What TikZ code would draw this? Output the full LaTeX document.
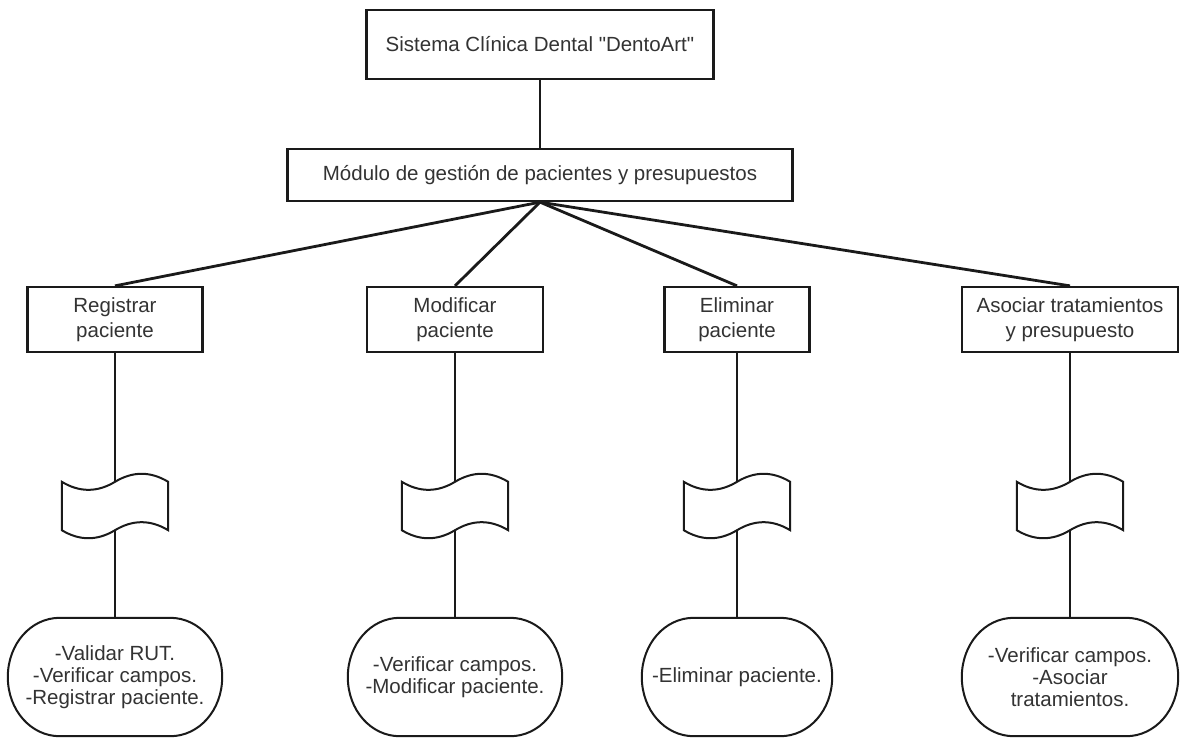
\documentclass[tikz,border=0pt]{standalone}
\usepackage{fontspec}
\setmainfont{Liberation Sans}[Ligatures=TeXOff]
\usetikzlibrary{backgrounds}
\definecolor{txtc}{HTML}{333333}
\definecolor{linec}{HTML}{1A1A1A}
\newcommand\tapeoutline[1]{%
  \draw[outline] (#1.north west)
    .. controls ([shift={(17.7pt,-10.7pt)}]#1.north west) and ([shift={(-17.7pt,-10.7pt)}]#1.north) .. (#1.north)
    .. controls ([shift={(17.7pt,10.7pt)}]#1.north) and ([shift={(-17.7pt,10.7pt)}]#1.north east) .. (#1.north east)
    -- (#1.south east)
    .. controls ([shift={(-17.7pt,10.7pt)}]#1.south east) and ([shift={(17.7pt,10.7pt)}]#1.south) .. (#1.south)
    .. controls ([shift={(-17.7pt,-10.7pt)}]#1.south) and ([shift={(17.7pt,-10.7pt)}]#1.south west) .. (#1.south west)
    -- cycle;}
\newcommand\termoutline[1]{%
  \draw[outline] ([xshift=52pt]#1.north west) -- ([xshift=-52pt]#1.north east)
    .. controls ([xshift=-23pt]#1.north east) and ([yshift=33pt]#1.east) .. (#1.east)
    .. controls ([yshift=-33pt]#1.east) and ([xshift=-23pt]#1.south east) .. ([xshift=-52pt]#1.south east)
    -- ([xshift=52pt]#1.south west)
    .. controls ([xshift=23pt]#1.south west) and ([yshift=-33pt]#1.west) .. (#1.west)
    .. controls ([yshift=33pt]#1.west) and ([xshift=23pt]#1.north west) .. ([xshift=52pt]#1.north west)
    -- cycle;}
\begin{document}
\begin{tikzpicture}[x=1pt,y=-1pt,
  box/.style={draw=linec, line width=2.3pt, fill=white, text=txtc, align=center, inner sep=0pt,
    font=\fontsize{20.5}{25}\selectfont},
  conn/.style={draw=linec, line width=2.8pt},
  outline/.style={draw=linec, line width=2pt, fill=white},
  tapenode/.style={minimum width=106pt, minimum height=48pt, inner sep=0pt},
  termnode/.style={minimum height=118pt, inner sep=0pt, text=txtc, align=center,
    font=\fontsize{20.5}{22}\selectfont}]
\useasboundingbox (0,0) rectangle (1180,740);

\node[box, minimum width=347pt, minimum height=69pt] (top) at (540,44.5) {Sistema Clínica Dental "DentoArt"};
\node[box, minimum width=505pt, minimum height=52pt] (mod) at (540,175) {Módulo de gestión de pacientes y presupuestos};

\node[box, minimum width=175pt, minimum height=65pt] (reg) at (115,319.5) {Registrar\\paciente};
\node[box, minimum width=176pt, minimum height=65pt] (modp) at (455,319.5) {Modificar\\paciente};
\node[box, minimum width=145pt, minimum height=65pt] (eli) at (737,319.5) {Eliminar\\paciente};
\node[box, minimum width=216pt, minimum height=65pt] (aso) at (1070,319.5) {Asociar tratamientos\\y presupuesto};

\node[tapenode] (t1) at (115,506) {};
\node[tapenode] (t2) at (455,506) {};
\node[tapenode] (t3) at (737,506) {};
\node[tapenode] (t4) at (1070,506) {};

\node[termnode, minimum width=214pt] (e1) at (115,677) {-Validar RUT.\\-Verificar campos.\\-Registrar paciente.};
\node[termnode, minimum width=214pt] (e2) at (455,677) {-Verificar campos.\\-Modificar paciente.};
\node[termnode, minimum width=190pt] (e3) at (737,677) {-Eliminar paciente.};
\node[termnode, minimum width=216pt] (e4) at (1070,677) {-Verificar campos.\\-Asociar\\tratamientos.};

\begin{scope}[on background layer]
  \fill[white] (0,0) rectangle (1180,740);
  \tapeoutline{t1}\tapeoutline{t2}\tapeoutline{t3}\tapeoutline{t4}
  \termoutline{e1}\termoutline{e2}\termoutline{e3}\termoutline{e4}
\end{scope}

\draw[conn] (top.south) -- (mod.north);
\draw[conn] (mod.south) -- (reg.north);
\draw[conn] (mod.south) -- (modp.north);
\draw[conn] (mod.south) -- (eli.north);
\draw[conn] (mod.south) -- (aso.north);

\draw[conn] (reg.south) -- (t1.north);
\draw[conn] (modp.south) -- (t2.north);
\draw[conn] (eli.south) -- (t3.north);
\draw[conn] (aso.south) -- (t4.north);

\draw[conn] (t1.south) -- (e1.north);
\draw[conn] (t2.south) -- (e2.north);
\draw[conn] (t3.south) -- (e3.north);
\draw[conn] (t4.south) -- (e4.north);
\end{tikzpicture}
\end{document}
